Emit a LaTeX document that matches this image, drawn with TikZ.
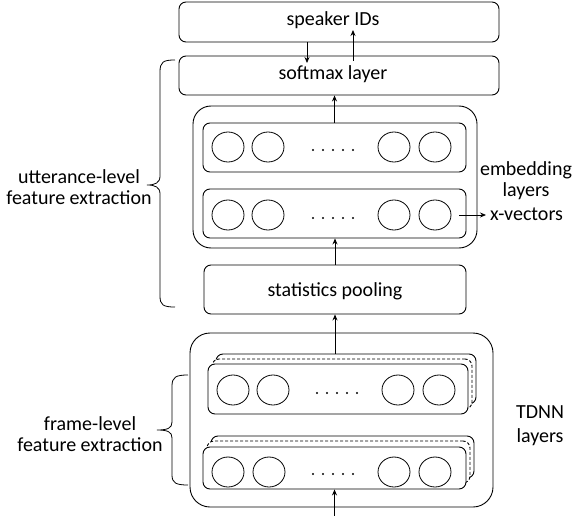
\documentclass[tikz,border=0pt]{standalone}
\usepackage{fontspec}
\setmainfont{Carlito}
\usetikzlibrary{shapes.geometric,arrows.meta}
\begin{document}
\begin{tikzpicture}[x=1pt,y=-1pt,
  every node/.style={font=\fontsize{20}{21}\selectfont, inner sep=0pt},
  box/.style={draw, line width=0.9pt, rounded corners=7pt},
  outer/.style={draw, line width=0.9pt, rounded corners=18pt},
  neuron/.style={draw, line width=0.8pt, ellipse, minimum width=32pt, minimum height=30pt},
  arr/.style={line width=0.8pt, -{Stealth[length=6pt,width=5pt]}},
  brc/.style={line width=0.8pt},
  lbl/.style={align=center}
]
\useasboundingbox (0,0) rectangle (578,516);
% top boxes
\node[box, minimum width=320pt, minimum height=40pt] (speaker) at (339,22) {};
\node at (333,20) (spk) {speaker IDs};
\node[box, minimum width=320pt, minimum height=39pt] (softmax) at (339,75.5) {};
\node at (333,74) (smx) {softmax layer};
% embedding block
\node[outer, minimum width=284pt, minimum height=142pt] (emb) at (335,177) {};
\node[box, minimum width=263pt, minimum height=49pt] (erow1) at (334.5,147.5) {};
\node[box, minimum width=263pt, minimum height=49pt] (erow2) at (334.5,213.5) {};
\foreach \r/\y in {1/147,2/215}{
  \node[neuron] (e\r a) at (228,\y) {};
  \node[neuron] (e\r b) at (268,\y) {};
  \node[neuron] (e\r c) at (394,\y) {};
  \node[neuron] (e\r d) at (435,\y) {};
  \foreach \k/\dx in {1/313,2/323,3/333,4/343,5/353}
    \fill (\dx,\y+3) circle (1.1pt);
}
% statistics pooling
\node[box, minimum width=262pt, minimum height=49pt] (stats) at (335,289.5) {};
\node at (335,291) (stt) {statistics pooling};
% TDNN block
\node[outer, rounded corners=20pt, minimum width=303pt, minimum height=174pt] (tdnn) at (341.5,420) {};
\node[box, fill=white, minimum width=260pt, minimum height=50pt] (t1back) at (346,379) {};
\node[box, fill=white, dashed, dash pattern=on 3pt off 2pt, minimum width=260pt, minimum height=50pt] (t1mid) at (342,384) {};
\node[box, fill=white, minimum width=260pt, minimum height=50pt] (t1) at (338,389) {};
\node[box, fill=white, minimum width=263pt, minimum height=42pt] (t2back) at (342.5,457) {};
\node[box, fill=white, dashed, dash pattern=on 3pt off 2pt, minimum width=263pt, minimum height=42pt] (t2mid) at (338.5,462) {};
\node[box, fill=white, minimum width=263pt, minimum height=42pt] (t2) at (334.5,468) {};
\node[neuron] (t1a) at (233,390) {};
\node[neuron] (t1b) at (273,390) {};
\node[neuron] (t1c) at (398,390) {};
\node[neuron] (t1d) at (439,390) {};
\foreach \dx in {317,327,337,347,357} \fill (\dx,393) circle (1.1pt);
\node[neuron] (t2a) at (228,472) {};
\node[neuron] (t2b) at (269,472) {};
\node[neuron] (t2c) at (394,472) {};
\node[neuron] (t2d) at (435,472) {};
\foreach \dx in {313,323,333,343,353} \fill (\dx,474) circle (1.1pt);
% labels
\node[lbl] (emblbl) at (526,181) {embedding\\layers};
\node[anchor=west] (xvec) at (490,214) {x-vectors};
\node[lbl, text depth=0pt] (tdnnlbl) at (540,424) {TDNN\\[3pt]layers};
\node[lbl] (utt) at (79,187) {utterance-level\\feature extraction};
\node[lbl] (frm) at (90,434) {frame-level\\feature extraction};
% arrows
\coordinate (dtip) at (307,63);
\coordinate (ustart) at (353,61);
\coordinate (utip) at (353,30);
\draw[arr] (speaker.south -| dtip) -- (dtip);
\draw[arr] (ustart) -- (utip);
\draw[arr] (erow1.north) -- (erow1.north |- softmax.south);
\draw[arr] (stats.north) -- (stats.north |- erow2.south);
\draw[arr] (stats.south |- t1back.north) -- (stats.south);
\coordinate (inp) at (334.5,516);
\draw[arr] (inp) -- (t2.south);
\coordinate (xs) at (459,215);
\coordinate (xe) at (486,215);
\draw[arr] (xs) -- (xe);
% braces
\draw[brc] (175,60) .. controls (163,60) and (160,62) .. (160,72)
  -- (160,176) .. controls (160,183) and (155,185) .. (147,185)
  .. controls (155,185) and (160,187) .. (160,194)
  -- (160,296) .. controls (160,305) and (163,307) .. (175,307);
\draw[brc] (188,375) .. controls (176,375) and (172,377) .. (172,386)
  -- (172,422) .. controls (172,428) and (168,430) .. (157,430)
  .. controls (168,430) and (172,432) .. (172,438)
  -- (172,475) .. controls (172,483) and (176,485) .. (188,485);
\end{tikzpicture}
\end{document}
